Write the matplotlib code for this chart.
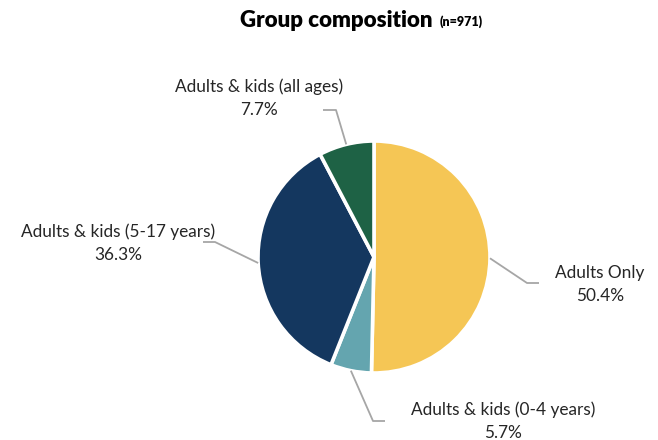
import numpy as np
import matplotlib
matplotlib.use("Agg")
import matplotlib.pyplot as plt

categories = ["Adults Only", "Adults & kids (0-4 years)",
              "Adults & kids (5-17 years)", "Adults & kids (all ages)"]
shares = [50.4, 5.7, 36.3, 7.7]
colors = ["#F5C655", "#64A5AF", "#14375F", "#1E6245"]
sample_n = 971

W, H = 658, 440
fig = plt.figure(figsize=(W / 100, H / 100), dpi=100)
ax = fig.add_axes([0, 0, 1, 1])

cx, cy, r = 374, H - 257, 116
wedges, _ = ax.pie(shares, colors=colors, startangle=90, counterclock=False,
                   center=(cx, cy), radius=r, frame=True,
                   wedgeprops=dict(edgecolor="white", linewidth=2.6))
ax.set_xlim(0, W)
ax.set_ylim(0, H)
ax.set_aspect("equal")
ax.axis("off")

font = "Lato"
# elbow point, end of the horizontal tick, label centre (pixel coords from top)
leaders = [
    ((527, 283), (539, 283), (600, 273)),
    ((373, 421), (385, 421), (503, 410)),
    ((215, 242), (203, 242), (118, 232)),
    ((336, 110), (323, 110), (259, 87)),
]
for w, name, val, (elbow, end, lab) in zip(wedges, categories, shares, leaders):
    mid = np.deg2rad((w.theta1 + w.theta2) / 2)
    sx, sy = cx + r * np.cos(mid), cy + r * np.sin(mid)
    ax.plot([sx, elbow[0], end[0]], [sy, H - elbow[1], H - end[1]],
            color="#A6A6A6", lw=1.3, solid_capstyle="butt")
    ax.text(lab[0], H - lab[1], name, ha="center", va="center",
            fontsize=12.4, family=font, color="#262626")
    ax.text(lab[0], H - lab[1] - 23, f"{val:.1f}%", ha="center", va="center",
            fontsize=12.4, family=font, color="#262626")

ax.text(433, H - 20, "Group composition", ha="right", va="center",
        fontsize=16, fontweight="heavy", family=font, color="black")
ax.text(440, H - 22, f"(n={sample_n})", ha="left", va="center",
        fontsize=9, fontweight="heavy", family=font, color="black")

fig.savefig("out.png", dpi=100, facecolor="white")
